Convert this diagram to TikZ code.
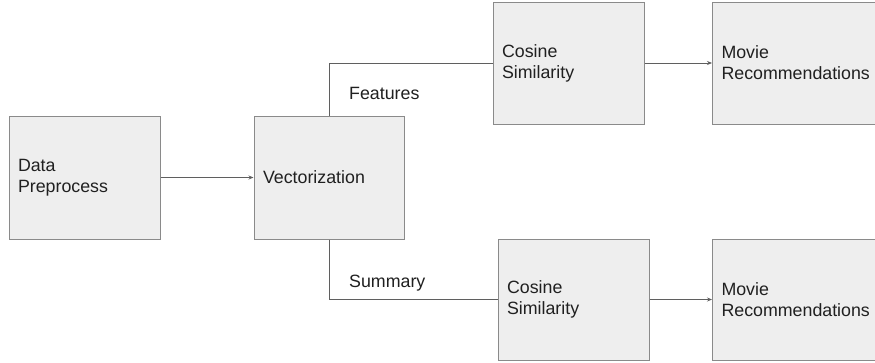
\documentclass[tikz,border=0pt]{standalone}
\usepackage{fontspec}
\setmainfont{Liberation Sans}
\usetikzlibrary{arrows.meta}
\definecolor{boxfill}{HTML}{EEEEEE}
\definecolor{boxline}{HTML}{8A8A8A}
\definecolor{conn}{HTML}{5F5F5F}
\definecolor{txt}{HTML}{202020}
\tikzset{
  stagebox/.style={draw=boxline, fill=boxfill, line width=1pt, rectangle,
    inner xsep=9pt, inner ysep=0pt, align=left, text=txt,
    font=\fontsize{17.8}{21}\selectfont},
  link/.style={draw=conn, line width=0.9pt},
  arrowlink/.style={link, -{Stealth[length=5pt,width=4pt]}},
  lbl/.style={text=txt, font=\fontsize{17.8}{21}\selectfont, inner sep=0pt}
}
\begin{document}
\begin{tikzpicture}[x=1pt,y=-1pt]
\clip (0,0) rectangle (875,362);
\fill[white] (0,0) rectangle (875,362);
\node[stagebox, text width=133pt, minimum height=123pt] (dp) at (84.5,177.5) {Data\\Preprocess};
\node[stagebox, text width=132pt, minimum height=123pt] (vec) at (329,177.5) {Vectorization};
\node[stagebox, text width=133pt, minimum height=122pt] (cos1) at (568.5,63) {Cosine\\Similarity};
\node[stagebox, text width=133pt, minimum height=121pt] (cos2) at (573.5,299.5) {Cosine\\Similarity};
\node[stagebox, text width=162pt, minimum height=122pt, anchor=west] (mov1) at (712,63) {Movie\\Recommendations};
\node[stagebox, text width=162pt, minimum height=121pt, anchor=west] (mov2) at (712,299.5) {Movie\\Recommendations};
\draw[arrowlink] (dp.east) -- (vec.west);
\draw[link] (vec.north) |- (cos1.west);
\draw[link] (vec.south) |- (cos2.west);
\draw[arrowlink] (cos1.east) -- (mov1.west);
\draw[arrowlink] (cos2.east) -- (mov2.west);
\node[lbl, anchor=west] (feat) at (349,93) {Features};
\node[lbl, anchor=west] (summ) at (349,283) {Summary};
\end{tikzpicture}
\end{document}
